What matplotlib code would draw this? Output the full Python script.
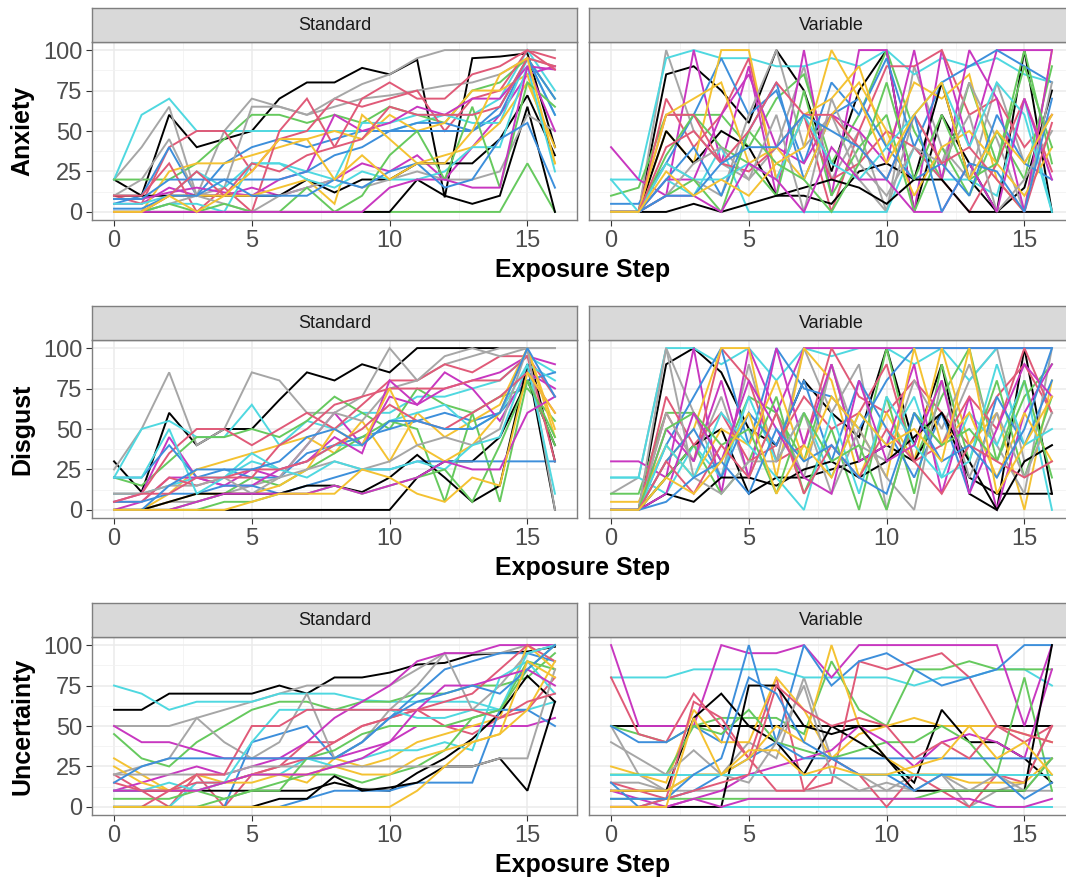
"""
Per-participant ratings across exposure steps, faceted by schedule (Standard / Variable).
"""

import matplotlib
matplotlib.use("Agg")
import matplotlib.pyplot as plt
from matplotlib.ticker import MultipleLocator

plt.rcParams["font.family"] = ["Liberation Sans", "DejaVu Sans"]

steps = list(range(17))
measures = ["Anxiety", "Disgust", "Uncertainty"]
schedules = ["Standard", "Variable"]

# colour cycle used for participants
palette = ["#000000", "#A6A6A6", "#4FD8E0", "#66C95E",
           "#C837C0", "#E05A78", "#3D8FDB", "#F4C232"]

# ---- Anxiety ----
anx_std = [
    [20, 10, 60, 40, 45, 50, 70, 80, 80, 89, 85, 94, 9, 95, 96, 98, 40],
    [20, 40, 65, 10, 50, 70, 65, 60, 65, 70, 72, 75, 78, 80, 85, 95, 90],
    [20, 60, 70, 50, 50, 50, 50, 50, 50, 50, 50, 55, 60, 60, 70, 100, 75],
    [20, 20, 20, 30, 45, 60, 60, 55, 60, 55, 65, 60, 55, 75, 80, 95, 70],
    [5, 5, 15, 10, 10, 15, 10, 15, 20, 30, 25, 35, 20, 40, 60, 85, 90],
    [10, 5, 40, 50, 50, 25, 45, 50, 70, 65, 70, 75, 50, 70, 75, 100, 95],
    [5, 10, 40, 10, 30, 40, 45, 40, 45, 50, 50, 55, 55, 50, 60, 95, 70],
    [0, 0, 25, 30, 30, 35, 40, 45, 50, 45, 60, 50, 55, 75, 75, 85, 30],
    [10, 10, 10, 10, 10, 10, 10, 20, 12, 20, 20, 30, 30, 30, 45, 72, 35],
    [10, 20, 45, 10, 15, 65, 65, 60, 70, 79, 85, 95, 100, 100, 100, 100, 100],
    [5, 5, 10, 25, 15, 30, 30, 25, 20, 55, 55, 60, 60, 55, 55, 95, 60],
    [0, 0, 0, 0, 0, 0, 0, 0, 0, 0, 0, 0, 0, 0, 0, 30, 0],
    [8, 8, 12, 15, 12, 10, 20, 25, 60, 50, 55, 65, 60, 70, 70, 90, 88],
    [10, 10, 30, 0, 15, 0, 50, 70, 40, 70, 80, 70, 70, 85, 90, 100, 88],
    [8, 8, 20, 20, 20, 20, 20, 25, 35, 40, 50, 50, 50, 50, 65, 95, 60],
    [0, 0, 10, 10, 10, 10, 15, 20, 5, 60, 45, 30, 35, 40, 55, 80, 40],
    [0, 0, 0, 0, 0, 0, 0, 0, 0, 0, 0, 20, 10, 5, 10, 65, 0],
    [0, 0, 5, 10, 5, 0, 10, 15, 20, 15, 20, 25, 20, 20, 25, 60, 50],
    [0, 0, 5, 5, 0, 30, 30, 20, 15, 25, 20, 20, 25, 40, 40, 90, 25],
    [0, 0, 5, 0, 5, 0, 0, 15, 0, 10, 35, 50, 20, 65, 15, 80, 65],
    [0, 0, 0, 0, 0, 0, 0, 0, 0, 0, 15, 20, 20, 15, 15, 90, 50],
    [0, 0, 10, 25, 10, 30, 25, 35, 40, 45, 65, 60, 60, 60, 65, 95, 90],
    [2, 2, 10, 10, 20, 10, 10, 10, 20, 15, 25, 30, 15, 20, 45, 55, 15],
    [0, 0, 10, 0, 10, 25, 45, 45, 20, 35, 20, 30, 30, 50, 85, 95, 30],
]
anx_var = [
    [0, 0, 85, 90, 75, 55, 100, 75, 25, 75, 100, 0, 60, 30, 0, 100, 0],
    [0, 0, 100, 50, 30, 20, 40, 90, 20, 50, 0, 90, 40, 20, 80, 30, 60],
    [20, 20, 95, 100, 95, 95, 90, 90, 95, 90, 100, 85, 95, 90, 95, 85, 80],
    [10, 15, 60, 60, 60, 40, 70, 85, 30, 60, 100, 50, 20, 80, 30, 100, 30],
    [40, 20, 10, 100, 30, 90, 10, 100, 10, 100, 100, 0, 100, 40, 100, 100, 100],
    [0, 0, 70, 40, 60, 95, 20, 60, 0, 50, 90, 90, 100, 60, 70, 40, 60],
    [5, 5, 30, 60, 95, 60, 75, 30, 80, 60, 95, 40, 80, 90, 100, 90, 80],
    [0, 0, 50, 30, 100, 100, 20, 60, 70, 90, 40, 80, 70, 85, 20, 0, 100],
    [0, 0, 50, 30, 50, 40, 10, 10, 5, 25, 30, 20, 80, 20, 0, 15, 75],
    [0, 0, 30, 20, 10, 60, 100, 40, 60, 20, 0, 60, 30, 80, 45, 0, 80],
    [20, 0, 20, 10, 40, 0, 0, 0, 0, 0, 0, 40, 20, 20, 10, 70, 0],
    [0, 0, 35, 60, 40, 30, 10, 75, 10, 40, 60, 0, 40, 10, 50, 20, 90],
    [0, 0, 20, 20, 60, 85, 40, 30, 60, 50, 30, 100, 20, 100, 70, 0, 100],
    [0, 0, 60, 60, 30, 25, 40, 60, 20, 30, 50, 40, 20, 0, 30, 70, 25],
    [0, 0, 20, 40, 10, 50, 80, 20, 60, 70, 40, 20, 30, 10, 60, 30, 20],
    [0, 0, 60, 70, 80, 30, 40, 20, 60, 80, 50, 10, 40, 50, 30, 10, 40],
    [0, 0, 0, 5, 0, 5, 10, 15, 20, 15, 5, 20, 20, 0, 0, 0, 0],
    [0, 0, 10, 30, 40, 20, 60, 0, 70, 30, 10, 40, 30, 60, 0, 20, 50],
    [0, 0, 30, 20, 20, 30, 20, 60, 30, 20, 40, 60, 80, 40, 80, 60, 0],
    [0, 0, 10, 20, 0, 50, 30, 20, 0, 30, 80, 20, 60, 20, 30, 90, 40],
    [0, 0, 10, 10, 0, 30, 20, 0, 40, 20, 20, 0, 0, 30, 0, 70, 20],
    [0, 0, 40, 50, 30, 50, 80, 60, 60, 40, 20, 60, 30, 40, 20, 0, 55],
    [0, 0, 10, 10, 30, 40, 40, 60, 50, 40, 20, 60, 0, 30, 25, 0, 70],
    [0, 0, 25, 10, 20, 10, 30, 40, 100, 70, 30, 60, 80, 20, 50, 30, 60],
]

# ---- Disgust ----
dis_std = [
    [30, 11, 60, 40, 50, 50, 68, 85, 80, 90, 85, 100, 100, 100, 100, 100, 30],
    [25, 50, 85, 40, 50, 85, 80, 60, 60, 70, 100, 80, 90, 95, 100, 100, 100],
    [20, 50, 55, 45, 45, 65, 40, 55, 50, 60, 60, 70, 70, 75, 80, 95, 85],
    [20, 15, 30, 45, 45, 50, 45, 55, 70, 60, 50, 75, 65, 60, 70, 75, 55],
    [5, 10, 45, 20, 15, 25, 20, 40, 60, 40, 70, 65, 75, 80, 85, 95, 90],
    [10, 10, 35, 50, 50, 40, 50, 60, 50, 65, 80, 80, 90, 85, 95, 95, 70],
    [20, 20, 40, 20, 25, 20, 20, 35, 40, 45, 50, 55, 60, 55, 60, 80, 85],
    [0, 0, 10, 25, 30, 35, 40, 45, 35, 55, 30, 60, 45, 55, 65, 100, 45],
    [0, 0, 0, 0, 0, 0, 0, 0, 0, 0, 0, 20, 30, 30, 45, 80, 40],
    [0, 0, 5, 5, 10, 15, 20, 40, 60, 55, 75, 80, 95, 100, 95, 100, 100],
    [10, 10, 15, 20, 20, 30, 25, 30, 40, 40, 55, 60, 65, 50, 60, 90, 80],
    [0, 0, 0, 5, 10, 20, 15, 25, 35, 45, 55, 50, 5, 60, 5, 80, 40],
    [0, 5, 20, 20, 15, 15, 25, 30, 45, 35, 80, 65, 85, 75, 55, 85, 75],
    [5, 5, 20, 15, 20, 20, 40, 50, 65, 70, 75, 75, 75, 80, 80, 95, 30],
    [5, 5, 10, 10, 15, 15, 10, 15, 20, 25, 25, 30, 30, 30, 30, 30, 30],
    [0, 0, 5, 10, 10, 10, 15, 25, 50, 40, 75, 40, 30, 40, 60, 100, 50],
    [0, 0, 5, 10, 10, 10, 10, 15, 15, 11, 20, 34, 20, 5, 15, 90, 0],
    [10, 10, 15, 15, 20, 10, 20, 25, 30, 25, 30, 40, 45, 40, 50, 100, 0],
    [20, 20, 50, 10, 20, 35, 25, 20, 30, 25, 25, 30, 25, 40, 45, 90, 10],
    [0, 0, 0, 0, 5, 5, 10, 10, 15, 10, 15, 20, 25, 5, 40, 80, 45],
    [0, 0, 0, 5, 10, 10, 10, 10, 15, 10, 15, 20, 30, 25, 25, 60, 70],
    [5, 10, 10, 20, 20, 25, 25, 30, 40, 50, 65, 55, 50, 60, 70, 85, 60],
    [0, 0, 15, 25, 25, 25, 30, 45, 50, 40, 55, 55, 50, 50, 60, 100, 70],
    [0, 0, 0, 0, 0, 5, 10, 10, 10, 25, 20, 10, 5, 20, 15, 85, 60],
]
dis_var = [
    [0, 0, 90, 100, 85, 50, 40, 80, 60, 45, 100, 40, 90, 10, 0, 100, 10],
    [10, 20, 100, 60, 20, 90, 30, 100, 60, 90, 0, 60, 40, 80, 100, 30, 40],
    [20, 20, 100, 100, 90, 100, 80, 100, 95, 100, 100, 90, 100, 80, 100, 100, 100],
    [10, 10, 60, 60, 30, 70, 60, 30, 90, 30, 100, 30, 70, 100, 30, 70, 90],
    [30, 30, 20, 100, 10, 100, 60, 100, 100, 100, 100, 100, 100, 100, 100, 100, 100],
    [0, 0, 60, 30, 100, 80, 30, 40, 100, 70, 60, 80, 60, 40, 70, 90, 60],
    [0, 0, 40, 70, 100, 40, 100, 75, 70, 50, 80, 100, 100, 100, 100, 100, 100],
    [0, 0, 30, 50, 100, 100, 20, 100, 80, 20, 60, 30, 100, 40, 60, 0, 80],
    [0, 0, 20, 40, 50, 10, 20, 20, 25, 30, 40, 30, 60, 20, 10, 10, 10],
    [0, 0, 60, 30, 70, 20, 60, 20, 90, 40, 30, 80, 50, 90, 40, 10, 100],
    [20, 20, 10, 40, 20, 70, 30, 60, 20, 60, 40, 70, 20, 60, 40, 80, 0],
    [0, 0, 20, 40, 10, 30, 70, 10, 50, 0, 70, 10, 90, 30, 80, 20, 70],
    [0, 0, 50, 30, 80, 20, 100, 40, 90, 30, 40, 90, 10, 70, 0, 60, 90],
    [0, 0, 70, 40, 60, 30, 40, 70, 50, 60, 90, 30, 40, 70, 50, 100, 60],
    [0, 0, 30, 50, 20, 60, 40, 80, 30, 80, 50, 20, 60, 10, 70, 40, 80],
    [5, 5, 40, 20, 50, 40, 80, 30, 70, 50, 20, 100, 40, 60, 20, 60, 30],
    [0, 0, 10, 5, 20, 20, 15, 25, 30, 20, 30, 45, 60, 30, 0, 30, 40],
    [0, 0, 100, 20, 10, 30, 30, 60, 10, 50, 20, 0, 80, 20, 60, 20, 60],
    [0, 0, 40, 20, 60, 40, 20, 0, 60, 10, 70, 40, 20, 30, 90, 40, 50],
    [0, 0, 50, 60, 40, 50, 10, 60, 30, 40, 0, 60, 40, 50, 30, 80, 20],
    [0, 0, 10, 60, 30, 80, 50, 20, 10, 80, 30, 40, 80, 10, 50, 90, 70],
    [0, 0, 30, 10, 40, 20, 60, 10, 40, 20, 50, 30, 10, 40, 30, 20, 30],
    [0, 0, 5, 20, 30, 10, 50, 30, 40, 20, 10, 60, 30, 40, 20, 50, 100],
    [0, 0, 20, 10, 30, 60, 10, 40, 20, 60, 40, 50, 30, 100, 10, 40, 70],
]

# ---- Uncertainty ----
unc_std = [
    [60, 60, 70, 70, 70, 70, 75, 70, 80, 80, 83, 88, 89, 94, 95, 96, 99],
    [50, 50, 50, 55, 60, 65, 70, 75, 75, 75, 75, 85, 95, 95, 95, 100, 100],
    [75, 70, 60, 65, 65, 65, 70, 70, 70, 66, 65, 65, 65, 65, 60, 60, 65],
    [45, 30, 25, 40, 50, 60, 65, 65, 60, 65, 65, 70, 70, 75, 75, 80, 95],
    [50, 40, 40, 35, 30, 30, 30, 30, 30, 35, 40, 50, 50, 50, 50, 50, 55],
    [20, 10, 0, 20, 0, 20, 25, 40, 40, 50, 55, 60, 50, 45, 55, 60, 80],
    [0, 0, 0, 0, 0, 40, 45, 50, 30, 40, 55, 70, 85, 90, 95, 95, 90],
    [30, 20, 10, 20, 15, 15, 20, 15, 30, 25, 30, 40, 45, 50, 55, 100, 85],
    [10, 10, 10, 10, 10, 10, 10, 10, 15, 11, 10, 21, 30, 42, 58, 81, 65],
    [20, 25, 30, 55, 40, 30, 40, 70, 30, 40, 60, 75, 95, 60, 75, 95, 100],
    [0, 0, 0, 15, 15, 20, 20, 30, 25, 30, 35, 35, 40, 35, 80, 90, 70],
    [5, 5, 5, 10, 5, 10, 15, 20, 20, 15, 20, 25, 35, 55, 60, 90, 85],
    [10, 15, 20, 25, 20, 25, 30, 40, 55, 65, 75, 90, 95, 95, 100, 100, 100],
    [0, 0, 10, 15, 15, 20, 25, 30, 40, 50, 55, 60, 65, 70, 85, 100, 90],
    [0, 0, 0, 0, 0, 0, 0, 5, 10, 10, 10, 15, 15, 15, 60, 60, 50],
    [25, 15, 10, 10, 15, 20, 20, 20, 25, 20, 20, 30, 35, 40, 45, 60, 90],
    [0, 0, 0, 0, 0, 0, 5, 5, 19, 10, 12, 15, 25, 25, 30, 10, 65],
    [20, 20, 20, 20, 20, 25, 25, 25, 25, 25, 25, 25, 25, 25, 30, 30, 85],
    [10, 10, 15, 10, 15, 40, 60, 60, 60, 60, 60, 55, 55, 60, 60, 95, 100],
    [0, 0, 0, 0, 5, 10, 10, 30, 35, 45, 50, 50, 50, 55, 60, 85, 100],
    [10, 10, 10, 10, 15, 20, 20, 20, 25, 30, 40, 60, 75, 75, 80, 85, 75],
    [15, 10, 10, 20, 20, 50, 50, 60, 60, 60, 60, 60, 60, 60, 55, 65, 70],
    [15, 25, 30, 30, 30, 30, 30, 30, 30, 40, 55, 65, 70, 75, 70, 85, 100],
    [0, 0, 0, 0, 0, 0, 0, 0, 0, 0, 0, 10, 25, 40, 45, 90, 80],
]
unc_var = [
    [50, 50, 50, 50, 50, 50, 50, 50, 50, 50, 50, 50, 50, 50, 50, 50, 50],
    [50, 20, 10, 20, 20, 40, 30, 80, 30, 20, 10, 20, 20, 0, 10, 15, 50],
    [80, 80, 80, 85, 85, 85, 85, 80, 80, 80, 80, 75, 80, 80, 85, 85, 75],
    [50, 45, 40, 50, 55, 55, 55, 45, 90, 60, 50, 85, 85, 90, 85, 85, 85],
    [100, 50, 50, 50, 100, 95, 95, 100, 80, 100, 100, 100, 100, 100, 100, 50, 100],
    [80, 45, 40, 70, 50, 30, 80, 10, 15, 90, 85, 90, 95, 80, 50, 40, 50],
    [50, 40, 40, 50, 40, 100, 40, 100, 75, 90, 95, 85, 75, 80, 85, 100, 100],
    [25, 20, 15, 60, 40, 40, 80, 60, 30, 45, 50, 55, 50, 50, 50, 45, 40],
    [10, 10, 10, 55, 70, 50, 40, 20, 50, 40, 30, 15, 60, 40, 40, 30, 15],
    [15, 15, 10, 10, 10, 10, 10, 10, 10, 10, 10, 10, 10, 10, 10, 10, 10],
    [0, 0, 0, 0, 0, 0, 0, 0, 0, 0, 0, 0, 0, 0, 0, 0, 0],
    [20, 20, 20, 50, 45, 60, 40, 35, 30, 35, 40, 40, 50, 40, 20, 80, 10],
    [10, 5, 0, 5, 10, 20, 25, 30, 35, 50, 40, 25, 40, 45, 40, 30, 85],
    [15, 10, 5, 65, 55, 30, 10, 10, 30, 20, 0, 20, 10, 0, 20, 15, 50],
    [15, 0, 5, 10, 20, 30, 40, 30, 30, 30, 30, 30, 30, 30, 30, 30, 30],
    [10, 10, 10, 20, 20, 30, 50, 40, 100, 50, 30, 20, 20, 15, 15, 15, 30],
    [0, 0, 0, 0, 0, 75, 75, 50, 45, 50, 30, 10, 10, 10, 10, 10, 100],
    [40, 30, 20, 35, 20, 15, 40, 75, 20, 10, 15, 10, 20, 10, 20, 10, 30],
    [20, 20, 20, 20, 20, 20, 20, 20, 20, 20, 20, 20, 20, 20, 20, 20, 20],
    [5, 5, 5, 5, 5, 5, 5, 5, 5, 5, 5, 5, 10, 10, 10, 10, 30],
    [0, 0, 0, 5, 0, 5, 5, 5, 5, 5, 5, 5, 5, 5, 0, 0, 5],
    [0, 0, 5, 10, 15, 20, 75, 60, 50, 55, 50, 30, 40, 30, 50, 45, 40],
    [5, 5, 5, 20, 30, 80, 70, 40, 30, 20, 20, 10, 20, 20, 20, 5, 15],
    [0, 0, 0, 55, 20, 35, 35, 20, 25, 20, 20, 25, 30, 50, 30, 40, 20],
]

panels = [[anx_std, anx_var], [dis_std, dis_var], [unc_std, unc_var]]

# ---- figure layout (pixels of a 1066x880 canvas) ----
W, H = 1066, 880
fig = plt.figure(figsize=(W / 100, H / 100), dpi=100)

panel_left = [92, 589]
panel_w = 485
panel_top = [42, 340, 637]
panel_h = 178
strip_h = 34
border = "#7F7F7F"

for r, measure in enumerate(measures):
    for c, sched in enumerate(schedules):
        x0 = panel_left[c] / W
        y0 = 1 - (panel_top[r] + panel_h) / H
        ax = fig.add_axes([x0, y0, panel_w / W, panel_h / H])

        for i, series in enumerate(panels[r][c]):
            ax.plot(steps, series, color=palette[i % len(palette)],
                    linewidth=1.4, solid_joinstyle="miter")

        ax.set_xlim(-0.8, 16.8)
        ax.set_ylim(-5, 105)
        ax.xaxis.set_major_locator(MultipleLocator(5))
        ax.xaxis.set_minor_locator(MultipleLocator(2.5))
        ax.yaxis.set_major_locator(MultipleLocator(25))
        ax.yaxis.set_minor_locator(MultipleLocator(12.5))
        ax.grid(which="major", color="#EBEBEB", linewidth=1.1)
        ax.grid(which="minor", color="#F2F2F2", linewidth=0.6)
        ax.set_axisbelow(True)
        for s in ax.spines.values():
            s.set_color(border)
            s.set_linewidth(1.0)
        ax.tick_params(which="minor", length=0)
        ax.tick_params(which="major", length=4, color="#333333",
                       labelsize=17, labelcolor="#4D4D4D", pad=3)
        if c == 1:
            ax.tick_params(axis="y", length=0, labelleft=False)

        # facet strip
        sy0 = 1 - panel_top[r] / H
        sax = fig.add_axes([x0, sy0, panel_w / W, strip_h / H])
        sax.set_facecolor("#D9D9D9")
        sax.set_xticks([])
        sax.set_yticks([])
        for s in sax.spines.values():
            s.set_color(border)
            s.set_linewidth(1.0)
        sax.text(0.5, 0.5, sched, ha="center", va="center",
                 fontsize=13, color="#1A1A1A", transform=sax.transAxes)

    # row labels
    fig.text(22 / W, 1 - (panel_top[r] + panel_h / 2) / H, measure,
             rotation=90, ha="center", va="center",
             fontsize=18, fontweight="bold")
    fig.text(583 / W, 1 - (panel_top[r] + panel_h + 50) / H, "Exposure Step",
             ha="center", va="center", fontsize=18, fontweight="bold")

fig.savefig("out.png", dpi=100)
